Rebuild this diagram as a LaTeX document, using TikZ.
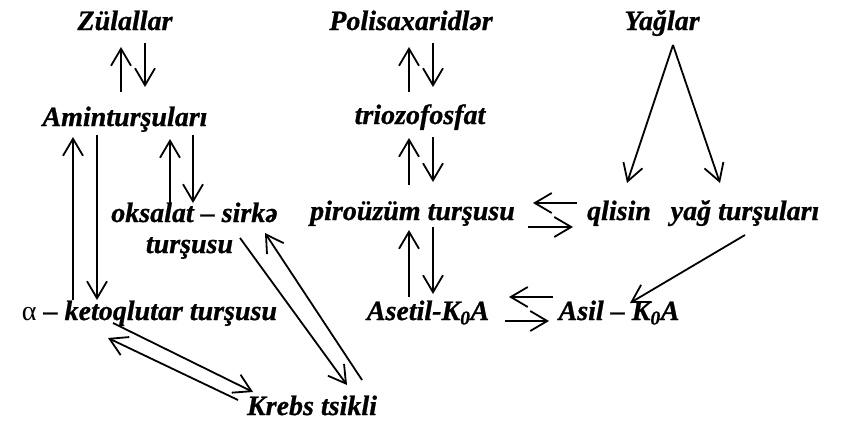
\documentclass[tikz,border=0pt]{standalone}
\usepackage{fontspec}
\setmainfont{Liberation Serif}[
  BoldFont={Liberation Serif Bold},
  ItalicFont={Liberation Serif Italic},
  BoldItalicFont={Liberation Serif Bold Italic},
  BoldItalicFeatures={FakeBold=0.8}]
\usetikzlibrary{arrows.meta}
\begin{document}
\begin{tikzpicture}[x=1pt,y=-1pt,
  lbl/.style={anchor=base,inner sep=0pt,font=\fontsize{28}{30}\selectfont\bfseries\itshape},
  arr/.style={line width=1.8pt,-{Straight Barb[length=17pt,width=20pt,line width=1.8pt]}}]
\useasboundingbox (0,0) rectangle (845,423);

% substances
\node[lbl] (zul)   at (125,30)    {Zülallar};
\node[lbl] (pol)   at (411,30)    {Polisaxaridlər};
\node[lbl] (yag)   at (662,30)    {Yağlar};
\node[lbl] (amin)  at (125,126)   {Aminturşuları};
\node[lbl] (trio)  at (420,124)   {triozofosfat};
\node[lbl] (oks)   at (194.5,222) {oksalat – sirkə};
\node[lbl] (oks2)  at (189.5,253) {turşusu};
\node[lbl] (piro)  at (412.5,220) {piroüzüm turşusu};
\node[lbl] (qli)   at (619,220)   {qlisin};
\node[lbl] (yagt)  at (745,220)   {yağ turşuları};
\node[lbl] (alfa)  at (149.5,320) {{\normalfont α} – ketoqlutar turşusu};
\node[lbl] (aset)  at (428,320)   {Asetil-K\textsubscript{0}A};
\node[lbl] (asil)  at (619,320)   {Asil – K\textsubscript{0}A};
\node[lbl] (krebs) at (312,415)   {Krebs tsikli};

% arrow end points
\coordinate (zulU0) at (121,92);   \coordinate (zulU1) at (121,47);
\coordinate (zulD0) at (145,43);   \coordinate (zulD1) at (145,87);
\coordinate (alfU0) at (73,300);   \coordinate (alfU1) at (73,137);
\coordinate (alfD0) at (97,135);   \coordinate (alfD1) at (97,300);
\coordinate (oksU0) at (170,208);  \coordinate (oksU1) at (170,139);
\coordinate (oksD0) at (193,135);  \coordinate (oksD1) at (193,203);
\coordinate (okK0)  at (240,238);  \coordinate (okK1)  at (347,385);
\coordinate (krO0)  at (362,380);  \coordinate (krO1)  at (265,233);
\coordinate (alK0)  at (113,323);  \coordinate (alK1)  at (253,392);
\coordinate (krA0)  at (238,400);  \coordinate (krA1)  at (108,338);
\coordinate (polU0) at (409,92);   \coordinate (polU1) at (409,47);
\coordinate (polD0) at (433,43);   \coordinate (polD1) at (433,87);
\coordinate (triU0) at (409,185);  \coordinate (triU1) at (409,138);
\coordinate (triD0) at (433,137);  \coordinate (triD1) at (433,182);
\coordinate (piU0)  at (409,297);  \coordinate (piU1)  at (409,230);
\coordinate (piD0)  at (433,227);  \coordinate (piD1)  at (433,294);
\coordinate (qlL0)  at (577,203);  \coordinate (qlL1)  at (533,203);
\coordinate (qlR0)  at (528,227);  \coordinate (qlR1)  at (573,227);
\coordinate (asL0)  at (553,297);  \coordinate (asL1)  at (509,297);
\coordinate (asR0)  at (505,321);  \coordinate (asR1)  at (549,321);
\coordinate (ytA0)  at (745,235);  \coordinate (ytA1)  at (630,303);
\coordinate (yagA)  at (673,45);
\coordinate (yagQ)  at (627,183);  \coordinate (yagT)  at (720,183);

% reactions
\draw[arr] (zulU0) -- (zulU1);
\draw[arr] (zulD0) -- (zulD1);
\draw[arr] (alfU0) -- (alfU1);
\draw[arr] (alfD0) -- (alfD1);
\draw[arr] (oksU0) -- (oksU1);
\draw[arr] (oksD0) -- (oksD1);
\draw[arr] (okK0) -- (okK1);
\draw[arr] (krO0) -- (krO1);
\draw[arr] (alK0) -- (alK1);
\draw[arr] (krA0) -- (krA1);
\draw[arr] (polU0) -- (polU1);
\draw[arr] (polD0) -- (polD1);
\draw[arr] (triU0) -- (triU1);
\draw[arr] (triD0) -- (triD1);
\draw[arr] (piU0) -- (piU1);
\draw[arr] (piD0) -- (piD1);
\draw[arr] (qlL0) -- (qlL1);
\draw[arr] (qlR0) -- (qlR1);
\draw[arr] (asL0) -- (asL1);
\draw[arr] (asR0) -- (asR1);
\draw[arr] (ytA0) -- (ytA1);
\draw[arr] (yagA) -- (yagQ);
\draw[arr] (yagA) -- (yagT);
\end{tikzpicture}
\end{document}
